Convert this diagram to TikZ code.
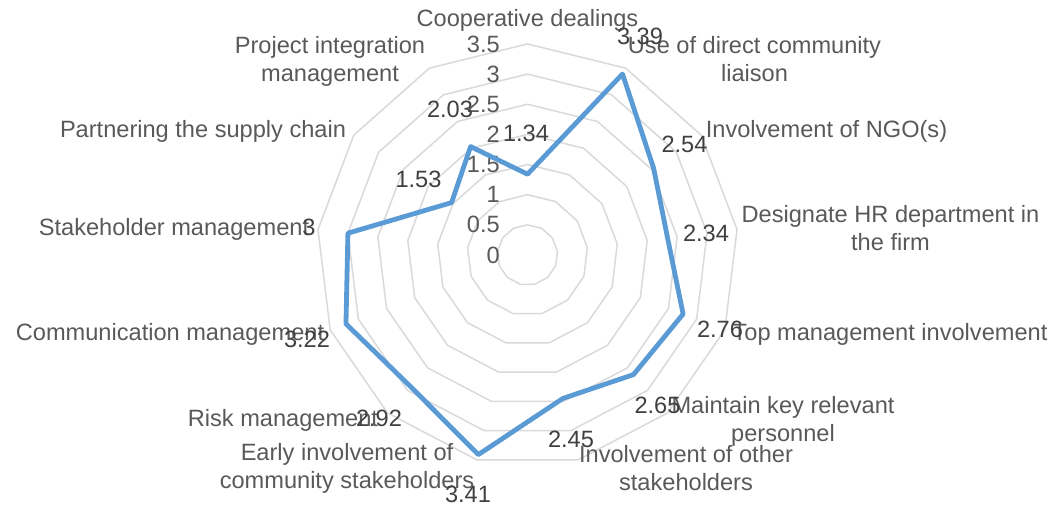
\documentclass[tikz,border=0pt]{standalone}
\usepackage{fontspec}
\setmainfont{Liberation Sans}
\usepackage{xcolor}

\definecolor{gridgray}{HTML}{D9D9D9}
\definecolor{lineblue}{HTML}{5B9BD5}
\definecolor{catgray}{HTML}{595959}
\definecolor{valgray}{HTML}{404040}

\begin{document}
\begin{tikzpicture}[x=1pt, y=1pt,
    ring/.style={draw=gridgray, line width=1.5pt},
    series/.style={draw=lineblue, line width=4.8pt, line join=round},
    cat/.style={font=\fontsize{23.6}{28}\selectfont, text=catgray, inner sep=0pt, align=center},
    val/.style={font=\fontsize{23.6}{28}\selectfont, text=valgray, inner sep=0pt, anchor=base},
    tick/.style={font=\fontsize{23.6}{28}\selectfont, text=catgray, inner sep=0pt, anchor=east}]
  \useasboundingbox (0,0) rectangle (1062,507);
  \coordinate (C) at (527.5,252);

  \foreach \r in {1,...,7}
    \draw[ring, shift={(C)}] (90:\r*30.15)
      \foreach \k in {1,...,12} { -- (90-\k*360/13:\r*30.15) } -- cycle;

  \foreach \t/\i in {0/0, 0.5/1, 1/2, 1.5/3, 2/4, 2.5/5, 3/6, 3.5/7}
    \node[tick] (t\i) at (500,252+\i*30.15) {\t};

  \foreach \v [count=\k from 0] in {1.34,3.39,2.54,2.34,2.76,2.65,2.45,3.41,2.92,3.22,3,1.53,2.03}
    \path (C) ++(90-\k*360/13:\v*60.3) coordinate (p\k);

  \draw[series] (p0) -- (p1) -- (p2) -- (p3) -- (p4) -- (p5) -- (p6)
    -- (p7) -- (p8) -- (p9) -- (p10) -- (p11) -- (p12) -- cycle;

  \node[cat, anchor=base]  (coop)  at (527.5,480) {Cooperative dealings};
  \node[cat, anchor=north] (liais) at (754.5,470.7) {Use of direct community\\liaison};
  \node[cat, anchor=base]  (ngo)   at (826.5,370) {Involvement of NGO(s)};
  \node[cat, anchor=north] (hr)    at (890.5,301.7) {Designate HR department in\\the firm};
  \node[cat, anchor=base]  (top)   at (890,167) {Top management involvement};
  \node[cat, anchor=north] (keyp)  at (783,110.7) {Maintain key relevant\\personnel};
  \node[cat, anchor=north] (other) at (686,61.7) {Involvement of other\\stakeholders};
  \node[cat, anchor=north] (early) at (347,63.7) {Early involvement of\\community stakeholders};
  \node[cat, anchor=base]  (risk)  at (283,81) {Risk management};
  \node[cat, anchor=base]  (comm)  at (170,167) {Communication management};
  \node[cat, anchor=base]  (stake) at (174,272) {Stakeholder management};
  \node[cat, anchor=base]  (supp)  at (203,370) {Partnering the supply chain};
  \node[cat, anchor=north] (integ) at (330,470.7) {Project integration\\management};

  \node[val] (v0)  at (526,365)   {1.34};
  \node[val] (v1)  at (640,462)   {3.39};
  \node[val] (v2)  at (684.5,354) {2.54};
  \node[val] (v3)  at (706,266)   {2.34};
  \node[val] (v4)  at (720,170)   {2.76};
  \node[val] (v5)  at (657.5,94)  {2.65};
  \node[val] (v6)  at (571,60)    {2.45};
  \node[val] (v7)  at (468,5)     {3.41};
  \node[val] (v8)  at (379,81)    {2.92};
  \node[val] (v9)  at (307,160)   {3.22};
  \node[val] (v10) at (309,272)   {3};
  \node[val] (v11) at (418.5,320) {1.53};
  \node[val] (v12) at (450,389)   {2.03};
\end{tikzpicture}
\end{document}
